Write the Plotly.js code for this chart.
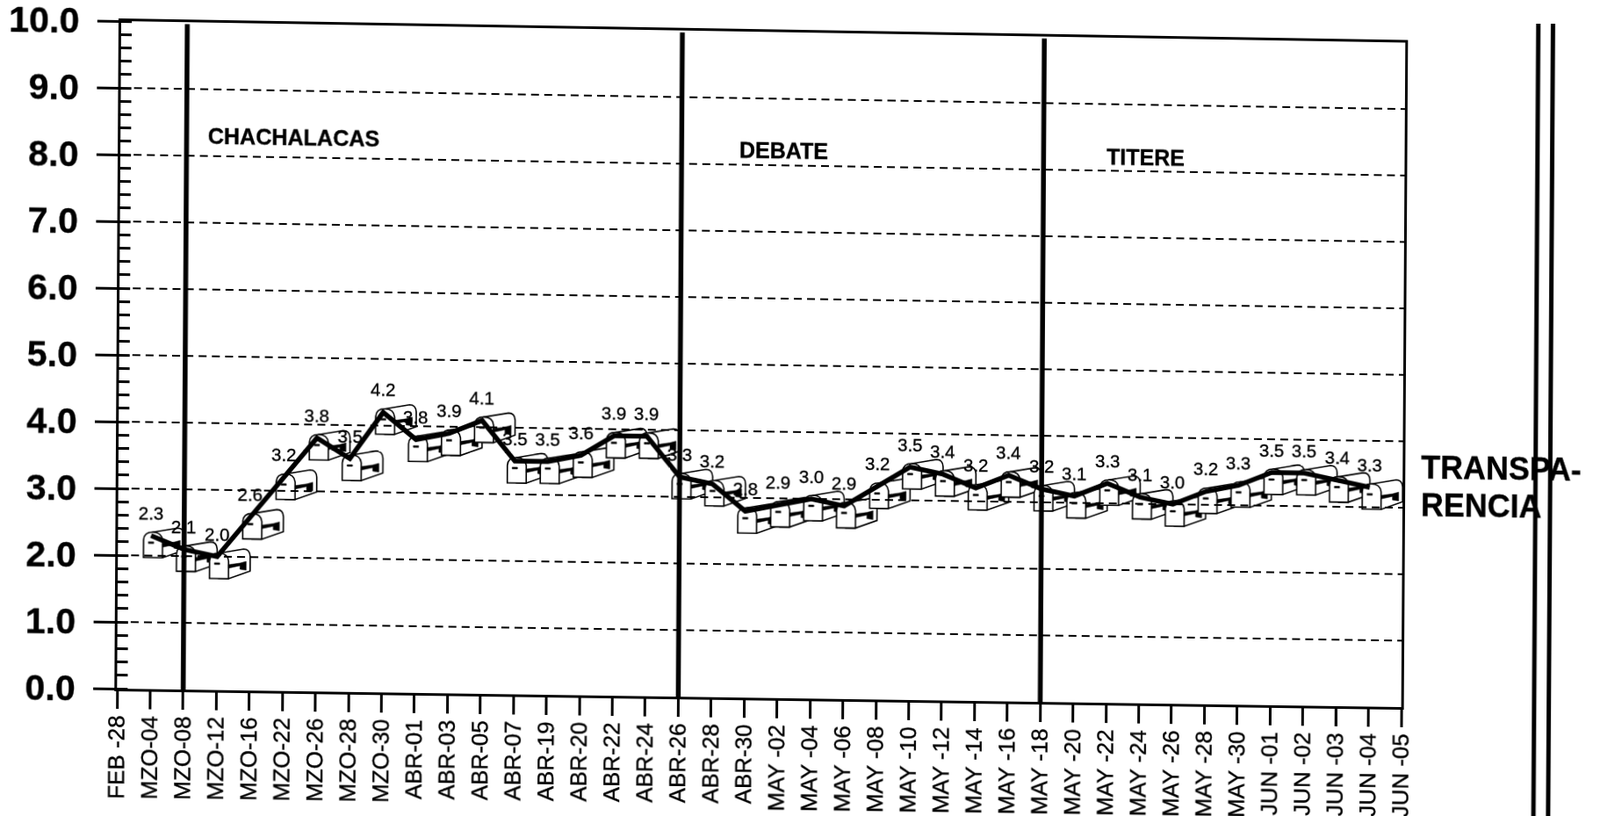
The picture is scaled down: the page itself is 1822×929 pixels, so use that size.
<!DOCTYPE html>
<html>
<head>
<meta charset="utf-8">
<script src="https://cdn.plot.ly/plotly-3.0.1.min.js"></script>
<style>
html,body{margin:0;padding:0;background:#fff;width:1822px;height:929px;overflow:hidden}
#chart{width:1822px;height:929px;transform-origin:138px 24px;transform:matrix3d(1.0062,0.01686,0,0.00000315, -0.0062,1,0,0, 0,0,1,0, 0,0,0,1)}
#chart text{stroke:#000;stroke-width:.35px}
</style>
</head>
<body>
<div id="chart"></div>
<script>
var dates = ["FEB -28","MZO-04","MZO-08","MZO-12","MZO-16","MZO-22","MZO-26","MZO-28","MZO-30","ABR-01","ABR-03","ABR-05","ABR-07","ABR-19","ABR-20","ABR-22","ABR-24","ABR-26","ABR-28","ABR-30","MAY -02","MAY -04","MAY -06","MAY -08","MAY -10","MAY -12","MAY -14","MAY -16","MAY -18","MAY -20","MAY -22","MAY -24","MAY -26","MAY -28","MAY -30","JUN -01","JUN -02","JUN -03","JUN -04","JUN -05"];
var pointDates = dates.slice(1, 39);
var values = [2.3,2.1,2.0,2.6,3.2,3.8,3.5,4.2,3.8,3.9,4.1,3.5,3.5,3.6,3.9,3.9,3.3,3.2,2.8,2.9,3.0,2.9,3.2,3.5,3.4,3.2,3.4,3.2,3.1,3.3,3.1,3.0,3.2,3.3,3.5,3.5,3.4,3.3];
var eventDates = ["MZO-08","ABR-26","MAY -18"];
var eventLabels = ["CHACHALACAS","DEBATE","TITERE"];
var eventLabelPos = [[0.0661,8.30],[0.4795,8.226],[0.766,8.215]];

var FONT = '"Liberation Sans", Arial, sans-serif';
var shapes = [];
var annotations = [];

var bodyPath = "M 2,4 L 30,9 Q 37,9 37.5,1 L 37.5,-16 L 13,-25 L 2,-25 Z";
var frontPath = "M -8.5,-25 L 13,-25 L 13,-5 Q 12,4 2,4 Q -8,4 -8.5,-5 Z";
var detailPath = "M 13,-9 L 26,-7 L 33,-5 L 33,-15 L 26,-14 L 26,-10 L 13,-13 Z M -3,-7 L 3,-7 L 3,-9 L -3,-9 Z";

pointDates.forEach(function (d, i) {
  var base = {type: "path", xsizemode: "pixel", ysizemode: "pixel", xref: "x", yref: "y",
              xanchor: d, yanchor: values[i], layer: "below"};
  shapes.push(Object.assign({}, base, {path: bodyPath, fillcolor: "#fff", line: {color: "#000", width: 1.6}}));
  shapes.push(Object.assign({}, base, {path: frontPath, fillcolor: "#fff", line: {color: "#000", width: 1.6}}));
  shapes.push(Object.assign({}, base, {path: detailPath, fillcolor: "#000", line: {color: "#000", width: 0.5}}));
  annotations.push({x: d, y: values[i], xref: "x", yref: "y", text: values[i].toFixed(1), showarrow: false,
                    yshift: 26, xanchor: "center", yanchor: "middle", font: {family: FONT, size: 20.5, color: "#000"}});
});

eventDates.forEach(function (d) {
  shapes.push({type: "line", xref: "x", yref: "y", x0: d, x1: d, y0: 0, y1: 9.97, layer: "above",
               line: {color: "#000", width: 5.5}});
});
eventLabels.forEach(function (t, i) {
  annotations.push({xref: "paper", yref: "y", x: eventLabelPos[i][0], y: eventLabelPos[i][1], text: "<b>" + t + "</b>",
                    showarrow: false, xanchor: "left", yanchor: "middle", font: {family: FONT, size: 25, color: "#000"}});
});

[1.1040, 1.1155].forEach(function (px) {
  shapes.push({type: "line", xref: "paper", yref: "paper", x0: px, x1: px, y0: -0.25, y1: 1.2, layer: "above",
               line: {color: "#000", width: 5}});
});

annotations.push({xref: "paper", yref: "paper", x: 1.013, y: 0.361, text: "<b>TRANSPA-</b>", showarrow: false,
                  xanchor: "left", yanchor: "middle", font: {family: FONT, size: 36, color: "#000"}});
annotations.push({xref: "paper", yref: "paper", x: 1.013, y: 0.305, text: "<b>RENCIA</b>", showarrow: false,
                  xanchor: "left", yanchor: "middle", font: {family: FONT, size: 36, color: "#000"}});

var trace = {x: pointDates, y: values, type: "scatter", mode: "lines",
             line: {color: "#000", width: 5.5, shape: "linear"}, cliponaxis: false, hoverinfo: "skip"};

var layout = {
  width: 1822, height: 929, showlegend: false,
  margin: {l: 138, t: 24, r: 224, b: 145, pad: 0},
  paper_bgcolor: "#fff", plot_bgcolor: "rgba(0,0,0,0)",
  xaxis: {type: "category", categoryorder: "array", categoryarray: dates, tickmode: "array", tickvals: dates, ticktext: dates,
          range: [0, 39], showgrid: false, zeroline: false, showline: true, linecolor: "#000", linewidth: 3, mirror: true,
          ticks: "outside", ticklen: 20, tickwidth: 3, tickcolor: "#000", tickangle: -90, ticklabelstandoff: -3,
          tickfont: {family: FONT, size: 26, color: "#000"}, automargin: false},
  yaxis: {range: [0, 10], dtick: 1, tick0: 0, tickformat: ".1f", showgrid: true, gridcolor: "#000", gridwidth: 1.4,
          griddash: "9px,6px", zeroline: false, showline: true, linecolor: "#000", linewidth: 3, mirror: true,
          ticks: "outside", ticklen: 24, tickwidth: 3, tickcolor: "#000", ticklabelstandoff: 12,
          tickfont: {family: FONT, size: 41, color: "#000", weight: "bold"}, automargin: false,
          minor: {dtick: 0.2, ticks: "inside", ticklen: 12, tickwidth: 3, tickcolor: "#000", showgrid: false}},
  shapes: shapes, annotations: annotations
};
Plotly.newPlot("chart", [trace], layout, {displayModeBar: false, staticPlot: true});
</script>
</body>
</html>
